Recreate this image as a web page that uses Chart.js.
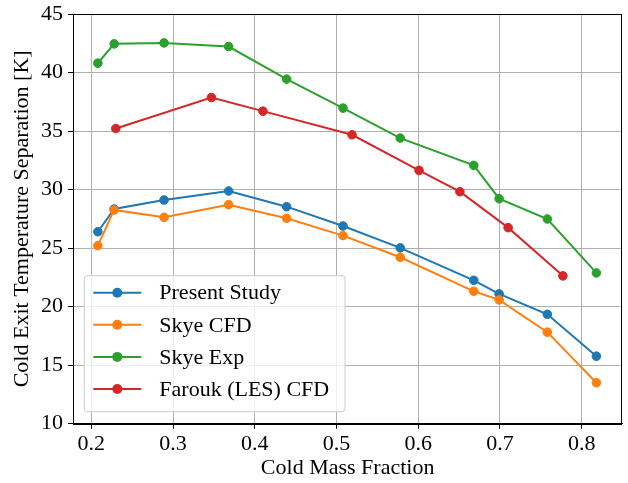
<!DOCTYPE html>
<html>
<head>
<meta charset="utf-8">
<script src="https://cdn.jsdelivr.net/npm/chart.js@4/dist/chart.umd.min.js"></script>
<style>
  html, body { margin: 0; padding: 0; background: #fff; }
  #wrap { width: 628px; height: 483px; position: relative; }
</style>
</head>
<body>
<div id="wrap"><canvas id="c" width="628" height="483"></canvas></div>
<script>
// ---- Data ----
const seriesNames = ["Present Study", "Skye CFD", "Skye Exp", "Farouk (LES) CFD"];
const seriesColors = ["#1f77b4", "#ff7f0e", "#2ca02c", "#d62728"];

const xPresent = [0.208, 0.228, 0.289, 0.368, 0.439, 0.508, 0.578, 0.668, 0.699, 0.758, 0.818];
const yPresent = [26.4, 28.34, 29.11, 29.88, 28.54, 26.89, 25.02, 22.25, 21.09, 19.35, 15.77];

const xSkyeCFD = [0.208, 0.228, 0.289, 0.368, 0.439, 0.508, 0.578, 0.668, 0.699, 0.758, 0.818];
const ySkyeCFD = [25.21, 28.26, 27.63, 28.71, 27.55, 26.07, 24.22, 21.31, 20.58, 17.82, 13.5];

const xSkyeExp = [0.208, 0.228, 0.289, 0.368, 0.439, 0.508, 0.578, 0.668, 0.699, 0.758, 0.818];
const ySkyeExp = [40.8, 42.45, 42.53, 42.22, 39.44, 36.96, 34.4, 32.07, 29.22, 27.49, 22.88];

const xFarouk = [0.230, 0.347, 0.410, 0.519, 0.601, 0.651, 0.710, 0.777];
const yFarouk = [35.22, 37.87, 36.7, 34.68, 31.64, 29.82, 26.75, 22.63];

const xTickValues = [0.2, 0.3, 0.4, 0.5, 0.6, 0.7, 0.8];
const yTickValues = [10, 15, 20, 25, 30, 35, 40, 45];

const xLabel = "Cold Mass Fraction";
const yLabel = "Cold Exit Temperature Separation [K]";

// ---- Build datasets ----
function pts(xs, ys) { return xs.map((x, i) => ({ x: x, y: ys[i] })); }
const allX = [xPresent, xSkyeCFD, xSkyeExp, xFarouk];
const allY = [yPresent, ySkyeCFD, ySkyeExp, yFarouk];

const datasets = seriesNames.map((name, i) => ({
  label: name,
  data: pts(allX[i], allY[i]),
  borderColor: seriesColors[i],
  backgroundColor: seriesColors[i],
  pointBackgroundColor: seriesColors[i],
  pointBorderColor: seriesColors[i],
  pointRadius: 4.3,
  pointBorderWidth: 1,
  borderWidth: 2,
  showLine: true,
  tension: 0,
  order: seriesNames.length - i
}));

const FONT = "'Liberation Serif', 'Times New Roman', serif";

const framePlugin = {
  id: 'frame',
  beforeDatasetsDraw(chart) {
    const { ctx, chartArea: a } = chart;
    ctx.save();
    ctx.strokeStyle = '#000';
    ctx.lineWidth = 1;
    ctx.strokeRect(Math.round(a.left) + 0.5, Math.round(a.top) + 0.5,
                   Math.round(a.right - a.left) - 1, Math.round(a.bottom - a.top));
    ctx.restore();
  }
};

const legendPlugin = {
  id: 'boxLegend',
  afterDatasetsDraw(chart) {
    const { ctx, chartArea: a } = chart;
    const ds = chart.data.datasets;
    const rowH = 32.1;
    const boxL = a.left + 11.3, boxR = a.left + 272;
    const boxB = a.bottom - 12, boxT = boxB - 136;
    ctx.save();
    ctx.beginPath();
    const r = 3;
    ctx.moveTo(boxL + r, boxT);
    ctx.lineTo(boxR - r, boxT); ctx.quadraticCurveTo(boxR, boxT, boxR, boxT + r);
    ctx.lineTo(boxR, boxB - r); ctx.quadraticCurveTo(boxR, boxB, boxR - r, boxB);
    ctx.lineTo(boxL + r, boxB); ctx.quadraticCurveTo(boxL, boxB, boxL, boxB - r);
    ctx.lineTo(boxL, boxT + r); ctx.quadraticCurveTo(boxL, boxT, boxL + r, boxT);
    ctx.closePath();
    ctx.fillStyle = 'rgba(255,255,255,0.8)';
    ctx.fill();
    ctx.strokeStyle = '#cccccc';
    ctx.lineWidth = 1;
    ctx.stroke();
    ds.forEach((d, i) => {
      const y = boxT + 17 + i * rowH;
      ctx.strokeStyle = d.borderColor;
      ctx.lineWidth = 2;
      ctx.beginPath();
      ctx.moveTo(boxL + 9, y); ctx.lineTo(boxL + 57, y);
      ctx.stroke();
      ctx.fillStyle = d.borderColor;
      ctx.beginPath();
      ctx.arc(boxL + 33, y, 5, 0, Math.PI * 2);
      ctx.fill();
      ctx.fillStyle = '#000';
      ctx.font = "22px " + FONT;
      ctx.textBaseline = 'middle';
      ctx.textAlign = 'left';
      ctx.fillText(d.label, boxL + 75, y + 1);
    });
    ctx.restore();
  }
};

new Chart(document.getElementById('c'), {
  type: 'scatter',
  data: { datasets: datasets },
  options: {
    responsive: false,
    animation: false,
    devicePixelRatio: 1,
    layout: { padding: { top: 14, right: 5.7, left: 0, bottom: 0 } },
    plugins: {
      legend: { display: false },
      tooltip: { enabled: false }
    },
    scales: {
      x: {
        type: 'linear',
        min: 0.1776,
        max: 0.8497,
        afterFit(s) { s.height = 59.3; s.paddingLeft = 0; s.paddingRight = 0; },
        afterBuildTicks(s) { s.ticks = xTickValues.map(v => ({ value: v })); },
        ticks: {
          includeBounds: false,
          padding: 2,
          color: '#000',
          font: { family: FONT, size: 22 },
          callback: (v) => Number(v).toFixed(1),
          maxRotation: 0,
          autoSkip: false
        },
        grid: { color: '#b0b0b0', lineWidth: 1, tickColor: '#000', tickLength: 5, tickWidth: 1 },
        border: { color: '#000', width: 1 },
        title: { display: true, text: xLabel, color: '#000', font: { family: FONT, size: 22 }, padding: { top: 0, bottom: 2 } }
      },
      y: {
        type: 'linear',
        min: 10,
        max: 45,
        afterFit(s) { s.width = 73; s.paddingTop = 0; s.paddingBottom = 0; },
        afterBuildTicks(s) { s.ticks = yTickValues.map(v => ({ value: v })); },
        ticks: {
          padding: 5,
          color: '#000',
          font: { family: FONT, size: 22 },
          autoSkip: false
        },
        grid: { color: '#b0b0b0', lineWidth: 1, tickColor: '#000', tickLength: 5, tickWidth: 1 },
        border: { color: '#000', width: 1 },
        title: { display: true, text: yLabel, color: '#000', font: { family: FONT, size: 22 }, padding: { top: 9, bottom: 0 } }
      }
    }
  },
  plugins: [framePlugin, legendPlugin]
});
</script>
</body>
</html>
